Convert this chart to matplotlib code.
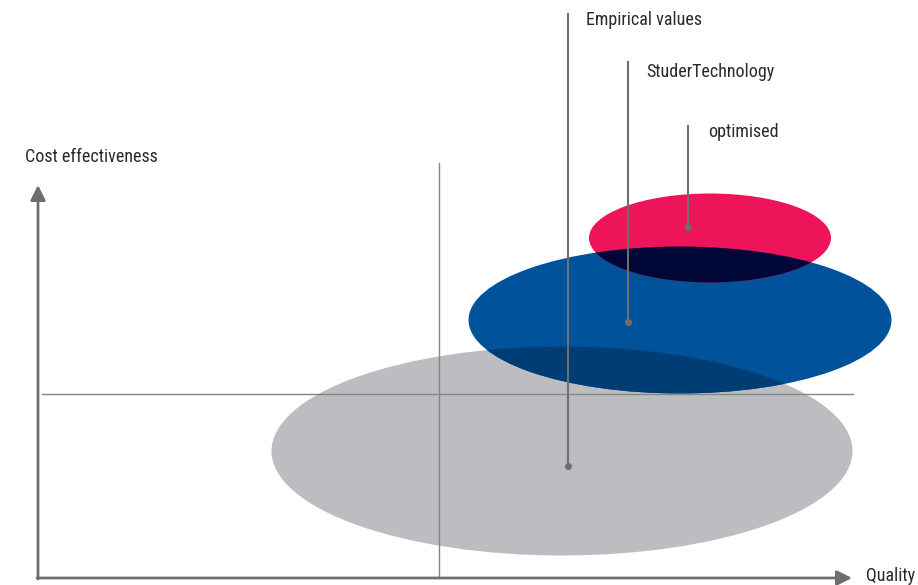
import matplotlib.pyplot as plt
import numpy as np
from matplotlib.patches import Ellipse
from matplotlib.colors import to_rgb
from matplotlib import font_manager

# --- Donnees (unites du repere : origine = coin des axes) ---
labels = ["Empirical values", "StuderTechnology", "optimised"]
centres_x = [524, 642, 672]
centres_y = [127, 258, 340]
largeurs = [581, 423, 242]
hauteurs = [209, 147, 89]
couleurs = ["#bcbdc0", "#00529b", "#ed1459"]

points_x = [530, 590, 650]
points_y = [112, 256, 351]
haut_ligne = [564, 516, 452]
texte_x = [548, 608, 670]
texte_y = [558, 506, 446]

croix_x = 401
croix_y = 184

gris = "#6d6e70"

# police etroite si disponible
noms = {f.name for f in font_manager.fontManager.ttflist}
familles = [n for n in ['Roboto Condensed', 'Liberation Sans Narrow',
                        'Open Sans Condensed', 'Roboto'] if n in noms]
plt.rcParams['font.family'] = familles + ['DejaVu Sans']
plt.rcParams['font.stretch'] = 'condensed'

fig = plt.figure(figsize=(9.18, 5.85), dpi=100)
ax = fig.add_axes([0, 0, 1, 1])
ax.set_xlim(-38, 880)
ax.set_ylim(-7, 578)
ax.axis('off')

def multiplier(c1, c2):
    a, b = np.array(to_rgb(c1)), np.array(to_rgb(c2))
    return tuple(a * b)

ells = []
for i in range(3):
    e = Ellipse((centres_x[i], centres_y[i]), largeurs[i], hauteurs[i],
                facecolor=couleurs[i], edgecolor='none', zorder=1 + i)
    ax.add_patch(e)
    ells.append(e)

# zones de recouvrement (effet "multiply")
for i, j in [(0, 1), (1, 2)]:
    e = Ellipse((centres_x[j], centres_y[j]), largeurs[j], hauteurs[j],
                facecolor=multiplier(couleurs[i], couleurs[j]),
                edgecolor='none', zorder=4)
    ax.add_patch(e)
    e.set_clip_path(ells[i])

# lignes de repere
ax.plot([croix_x, croix_x], [0, 415], color="#858585", lw=1, zorder=5)
ax.plot([4, 815], [croix_y, croix_y], color="#858585", lw=1, zorder=5)

# axes avec fleches
ax.annotate("", xy=(0, 393), xytext=(0, -1),
            arrowprops=dict(arrowstyle='-|>,head_length=0.9,head_width=0.45',
                            color=gris, lw=2, shrinkA=0, shrinkB=0), zorder=6)
ax.annotate("", xy=(814, 0), xytext=(-1, 0),
            arrowprops=dict(arrowstyle='-|>,head_length=0.9,head_width=0.45',
                            color=gris, lw=2, shrinkA=0, shrinkB=0), zorder=6)
ax.text(-13, 421, "Cost effectiveness", fontsize=13, color="#2a2a2a",
        va='center', ha='left')
ax.text(828, 2, "Quality", fontsize=13, color="#2a2a2a", va='center', ha='left')

# etiquettes
for i in range(3):
    ax.plot([points_x[i], points_x[i]], [points_y[i], haut_ligne[i]],
            color=gris, lw=1.5, zorder=7)
    ax.plot(points_x[i], points_y[i], 'o', color=gris, ms=4, zorder=8)
    ax.text(texte_x[i], texte_y[i], labels[i], fontsize=13, color="#2a2a2a",
            va='center', ha='left')

fig.savefig("out.png", dpi=100)
